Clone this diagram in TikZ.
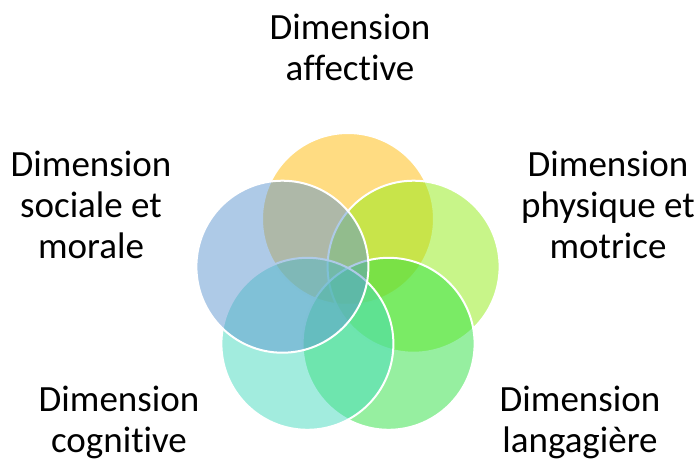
\documentclass[tikz,border=0pt]{standalone}
\usepackage{fontspec}
\setmainfont[Ligatures=NoCommon]{Carlito}
\usetikzlibrary{positioning}

\definecolor{venn_yellow}{RGB}{255,185,5}
\definecolor{venn_lime}{RGB}{146,236,20}
\definecolor{venn_green}{RGB}{46,224,66}
\definecolor{venn_teal}{RGB}{70,218,190}
\definecolor{venn_blue}{RGB}{94,150,208}

\begin{document}
\begin{tikzpicture}[x=1pt, y=-1pt,
        venn_circle/.style={circle, draw=white, line width=2pt, fill opacity=0.5, draw opacity=1, minimum size=172pt, inner sep=0pt},
        dim_label/.style={align=center, inner sep=0pt, anchor=base, font=\fontsize{37}{41}\selectfont}
        ]
            \useasboundingbox (0,0) rectangle (697,461);

            % circles, clockwise from the top
            \node[venn_circle, fill=venn_yellow]    (circle_1) at (348,219)     {};
            \node[venn_circle, fill=venn_lime]      (circle_2) at (413.6,266.7) {};
            \node[venn_circle, fill=venn_green]     (circle_3) at (388.6,343.8) {};
            \node[venn_circle, fill=venn_teal]      (circle_4) at (307.4,343.8) {};
            \node[venn_circle, fill=venn_blue]      (circle_5) at (282.4,266.7) {};

            % labels (anchored on their last line)
            \node[dim_label] (label_1) at (350,80)  {Dimension\\affective};
            \node[dim_label] (label_2) at (608,258) {Dimension\\physique et\\motrice};
            \node[dim_label] (label_3) at (580,452) {Dimension\\langagière};
            \node[dim_label] (label_4) at (119,452) {Dimension\\cognitive};
            \node[dim_label] (label_5) at (91,258)  {Dimension\\sociale et\\morale};
        \end{tikzpicture}
\end{document}
